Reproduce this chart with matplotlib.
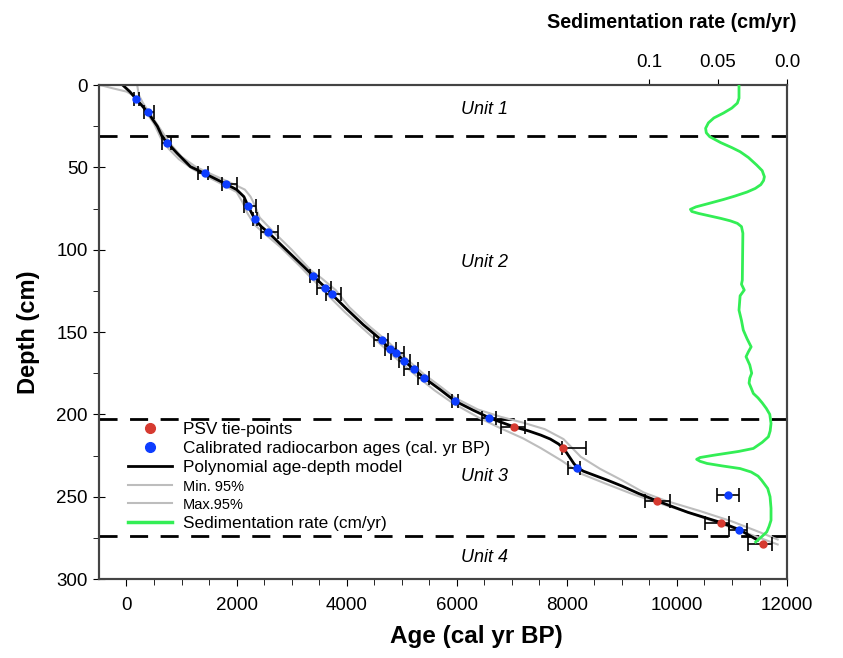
import matplotlib.pyplot as plt
from matplotlib.lines import Line2D

plt.rcParams['font.family'] = ['Liberation Sans', 'DejaVu Sans']

# Calibrated radiocarbon ages: age, depth and the ends of the error bars
c14_age = [176, 388, 740, 1418, 1800, 2212, 2333, 2576, 3394, 3612, 3727,
           4636, 4781, 4903, 5042, 5224, 5406, 5963, 6587, 8193, 10921, 11133]
c14_depth = [8.5, 16.6, 35, 53.7, 60, 73.7, 81.6, 89.5, 116, 123, 127,
             155, 160.4, 163, 167.5, 172.7, 177.8, 191.8, 202, 232.3, 249, 270]
c14_lo = [130, 315, 650, 1300, 1727, 2133, 2290, 2436, 3327, 3467, 3630,
          4500, 4700, 4800, 4950, 5050, 5300, 5920, 6466, 8023, 10726, 10950]
c14_hi = [225, 495, 800, 1480, 2013, 2345, 2380, 2758, 3497, 3710, 3890,
          4750, 4900, 5050, 5150, 5300, 5500, 6020, 6710, 8241, 11121, 11266]

# PSV tie-points
psv_age = [7042, 7939, 9636, 10800, 11570]
psv_depth = [207.6, 220.7, 252.5, 265.7, 278.7]
psv_lo = [6812, 7903, 9423, 10514, 11285]
psv_hi = [7236, 8345, 9878, 10950, 11721]

# polynomial age-depth model
model_age = [-70, 60, 176, 388, 560, 649, 740, 921, 1163, 1418, 1800, 2000, 2133,
             2212, 2333, 2450, 2576, 2900, 3224, 3394, 3612, 3727, 4000, 4300,
             4636, 4781, 4903, 5042, 5224, 5406, 5700, 5963, 6300, 6587, 6800,
             7042, 7300, 7527, 7700, 7850, 7939, 8000, 8070, 8130, 8193, 8300,
             8500, 8740, 9000, 9300, 9636, 10200, 10800, 11133, 11466]
model_depth = [0, 4, 8.5, 16.6, 25, 31.4, 35, 41.5, 49.6, 53.7, 60, 63.5, 67.8,
               73.7, 81.6, 86, 89.5, 100, 110.4, 116, 123, 127, 136, 145.5,
               155, 160.4, 163, 167.5, 172.7, 177.8, 185, 191.8, 197.5, 202, 204.7,
               207.6, 210, 212.6, 215, 218, 220.7, 223.5, 227, 230, 232.3, 234.5,
               237, 240, 243.5, 248, 252.5, 259.5, 265.7, 270, 276.4]

# min. 95% envelope
min_age = [-480, -250, 0, 133, 300, 500, 620, 760, 950, 1200, 1400, 1750, 2000,
           2103, 2200, 2330, 2500, 2800, 3150, 3350, 3550, 3700, 3970, 4300,
           4600, 4880, 5280, 5600, 5920, 6400, 6800, 7200, 7527, 7900, 8254,
           8700, 9200, 9636, 10200, 10800, 11300, 11830]
min_depth = [0, 2, 4, 6.5, 13.5, 23.5, 32, 38.5, 45, 51, 54.5, 60.5, 65,
             70.9, 78, 85, 90, 98.5, 110, 117, 123.5, 129, 138, 148,
             157, 165.5, 177, 185.5, 193, 202, 208.5, 214.5, 220.5, 228, 236,
             242, 248.5, 253.5, 259.5, 266.5, 272.5, 279]

# max. 95% envelope
max_age = [194, 224, 300, 420, 560, 700, 830, 1000, 1250, 1500, 1900, 2150,
           2254, 2330, 2420, 2650, 3000, 3345, 3550, 3800, 4050, 4430, 4720,
           5060, 5400, 5700, 5970, 6380, 6800, 7200, 7600, 7939, 8254, 8600,
           9000, 9400, 9800, 10400, 11000, 11500, 11830]
max_depth = [0, 6, 11, 17, 24, 31, 37, 43.5, 49.5, 53.5, 59.5, 63.5,
             67.8, 73, 80.5, 88.5, 100, 112.4, 117.5, 124.5, 135, 147, 155,
             165.5, 175.5, 183, 190, 197, 201.5, 205, 209, 215, 225.8, 233,
             240, 247.5, 252.5, 258.5, 265, 271.5, 276]

# sedimentation rate (cm/yr) against depth
sed_rate = [0.0348, 0.0348, 0.036, 0.040, 0.046, 0.053, 0.057, 0.059, 0.0585,
            0.056, 0.048, 0.040, 0.034, 0.028, 0.022, 0.018, 0.0164, 0.017,
            0.019, 0.023, 0.029, 0.038, 0.046, 0.057, 0.066, 0.070, 0.069,
            0.064, 0.056, 0.048, 0.041, 0.036, 0.033, 0.032, 0.0324, 0.033,
            0.031, 0.034, 0.0348, 0.033, 0.0317, 0.029, 0.026, 0.028, 0.0297,
            0.027, 0.0256, 0.027, 0.0275, 0.026, 0.0244, 0.021, 0.018, 0.015,
            0.0125, 0.0116, 0.0122, 0.0135, 0.018, 0.0244, 0.035, 0.053, 0.063,
            0.0655, 0.063, 0.058, 0.047, 0.034, 0.026, 0.021, 0.0184, 0.014,
            0.0123, 0.0116, 0.0116, 0.013, 0.0147, 0.018, 0.0227]
sed_depth = [0, 8, 11, 14, 17, 20, 23, 26.3, 29, 31.4, 35, 38, 40.5, 44, 48.6, 52,
             55.7, 58, 60.5, 62.8, 65, 67.5, 69.5, 72, 74, 75.5, 76.8, 78, 79.5,
             81, 82.5, 84, 86, 90, 118.5, 121, 124.5, 128, 136.7, 143, 148.8,
             154, 159, 162, 165, 170, 175, 178, 181, 184, 187.3, 190, 193, 196.4,
             200, 205.5, 210, 213.6, 217, 220.7, 222.5, 224.8, 226.2, 227.3, 228.5,
             229.8, 231.3, 232.9, 235, 237.5, 240, 245, 250, 257, 264.3, 268,
             271.4, 274, 277.5]

unit_labels = ['Unit 1', 'Unit 2', 'Unit 3', 'Unit 4']
unit_depths = [15, 107.5, 238, 287]
boundaries = [31, 203, 274]

red = '#d63a30'
blue = '#0d3dff'
green = '#33ee55'
gray = '#bdbdbd'

fig = plt.figure(figsize=(8.43, 6.58), dpi=100)
ax = fig.add_axes([0.1174, 0.12, 0.8162, 0.7508])

ax.plot(min_age, min_depth, color=gray, lw=1.5, zorder=2)
ax.plot(max_age, max_depth, color=gray, lw=1.5, zorder=2)
ax.plot(model_age, model_depth, color='black', lw=2, zorder=3)

ax.errorbar(c14_age, c14_depth,
            xerr=[[a - l for a, l in zip(c14_age, c14_lo)],
                  [h - a for a, h in zip(c14_age, c14_hi)]],
            fmt='none', ecolor='black', elinewidth=1.2, capsize=5, capthick=1.2, zorder=4)
ax.errorbar(psv_age, psv_depth,
            xerr=[[a - l for a, l in zip(psv_age, psv_lo)],
                  [h - a for a, h in zip(psv_age, psv_hi)]],
            fmt='none', ecolor='black', elinewidth=1.2, capsize=5, capthick=1.2, zorder=4)
ax.plot(c14_age, c14_depth, 'o', color=blue, ms=5, zorder=5)
ax.plot(psv_age, psv_depth, 'o', color=red, ms=5, zorder=5)

for d in boundaries:
    ax.axhline(d, color='black', lw=2, ls=(0, (6.5, 4.5)), zorder=1)
for lab, d in zip(unit_labels, unit_depths):
    ax.text(6500, d, lab, style='italic', fontsize=13, ha='center', va='center')

ax.set_xlim(-500, 12000)
ax.set_ylim(300, 0)
ax.set_xticks(range(0, 12001, 2000))
ax.set_xticks(range(0, 12001, 500), minor=True)
ax.set_yticks(range(0, 301, 50))
ax.set_yticks(range(0, 301, 25), minor=True)
ax.tick_params(axis='x', which='major', direction='out', length=5, labelsize=13.5, pad=8)
ax.tick_params(axis='x', which='minor', direction='out', length=4)
ax.tick_params(axis='y', which='major', direction='inout', length=8, labelsize=13.5, pad=4)
ax.tick_params(axis='y', which='minor', direction='out', length=4)
ax.set_xlabel('Age (cal yr BP)', fontsize=17.5, fontweight='bold')
ax.xaxis.set_label_coords(0.548, -0.093)
ax.set_ylabel('Depth (cm)', fontsize=17, fontweight='bold')
ax.yaxis.set_label_coords(-0.086, 0.5)
for s in ax.spines.values():
    s.set_color('#444444')
    s.set_linewidth(1.5)

# sedimentation rate on a reversed top axis
ax2 = ax.twiny()
ax2.plot(sed_rate, sed_depth, color=green, lw=2, zorder=3)
ax2.set_xlim(0.4986, 0.0)
ax2.set_xticks([0.1, 0.05, 0.0])
ax2.set_xticklabels(['0.1', '0.05', '0.0'])
ax2.tick_params(axis='x', direction='out', length=4, labelsize=13.5, pad=6)
ax2.set_xlabel('Sedimentation rate (cm/yr)', fontsize=14.2, fontweight='bold')
ax2.xaxis.set_label_coords(0.833, 1.115)
for s in ax2.spines.values():
    s.set_color('#444444')
    s.set_linewidth(1.5)

handles = [
    Line2D([], [], marker='o', color=red, ls='none', ms=7),
    Line2D([], [], marker='o', color=blue, ls='none', ms=7),
    Line2D([], [], color='black', lw=2),
    Line2D([], [], color=gray, lw=1.5),
    Line2D([], [], color=gray, lw=1.5),
    Line2D([], [], color=green, lw=2.5),
]
labels = ['PSV tie-points', 'Calibrated radiocarbon ages (cal. yr BP)',
          'Polynomial age-depth model', 'Min. 95%', 'Max.95%', 'Sedimentation rate (cm/yr)']
leg = ax2.legend(handles, labels, loc='upper left', bbox_to_anchor=(0.042, 0.318),
                 frameon=False, fontsize=12.4, handlelength=2.55, handletextpad=0.64,
                 labelspacing=0.22, borderaxespad=0, borderpad=0)
leg.get_texts()[3].set_fontsize(10.5)
leg.get_texts()[4].set_fontsize(10.5)

fig.savefig('out.png', dpi=100)
